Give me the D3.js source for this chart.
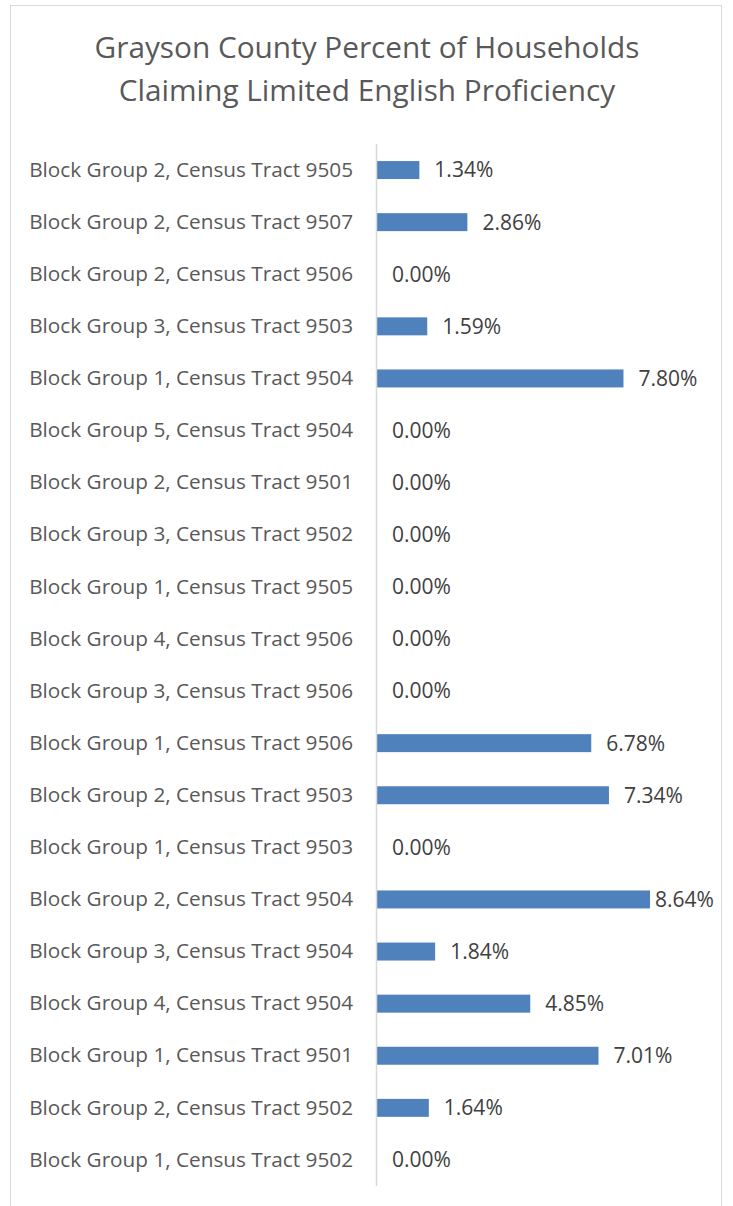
<!DOCTYPE html>
<html>
<head>
<meta charset="utf-8">
<script src="https://cdn.jsdelivr.net/npm/d3@7"></script>
<style>
  body { margin: 0; background: #fff; }
  svg { display: block; }
</style>
</head>
<body>
<div class="barChart"></div>
<script>
// data
var tracts = [
    "Block Group 2, Census Tract 9505",
    "Block Group 2, Census Tract 9507",
    "Block Group 2, Census Tract 9506",
    "Block Group 3, Census Tract 9503",
    "Block Group 1, Census Tract 9504",
    "Block Group 5, Census Tract 9504",
    "Block Group 2, Census Tract 9501",
    "Block Group 3, Census Tract 9502",
    "Block Group 1, Census Tract 9505",
    "Block Group 4, Census Tract 9506",
    "Block Group 3, Census Tract 9506",
    "Block Group 1, Census Tract 9506",
    "Block Group 2, Census Tract 9503",
    "Block Group 1, Census Tract 9503",
    "Block Group 2, Census Tract 9504",
    "Block Group 3, Census Tract 9504",
    "Block Group 4, Census Tract 9504",
    "Block Group 1, Census Tract 9501",
    "Block Group 2, Census Tract 9502",
    "Block Group 1, Census Tract 9502"
];
var percents = [1.34, 2.86, 0.00, 1.59, 7.80, 0.00, 0.00, 0.00, 0.00, 0.00,
                0.00, 6.78, 7.34, 0.00, 8.64, 1.84, 4.85, 7.01, 1.64, 0.00];
var titleLines = ["Grayson County Percent of Households",
                  "Claiming Limited English Proficiency"];

var width = 733, height = 1206;
var font = "'Open Sans', sans-serif";

var canvas = d3.select(".barChart")
    .append("svg")
    .attr("width", width)
    .attr("height", height);

// shrink/grow a text selection so its widest member is `target` px wide
function fitWidth(sel, target, base) {
    var w = 0;
    sel.each(function () { w = Math.max(w, this.getComputedTextLength()); });
    sel.style("font-size", (base * target / w) + "px");
}

// chart border
canvas.append("rect")
    .attr("x", 10.5).attr("y", 5.5)
    .attr("width", 711).attr("height", 1220)
    .attr("fill", "none")
    .attr("stroke", "#d9d9d9");

var title = canvas.selectAll(".title")
    .data(titleLines)
    .enter()
    .append("text")
    .attr("class", "title")
    .attr("x", 367)
    .attr("y", function (d, i) { return 58 + i * 43; })
    .attr("text-anchor", "middle")
    .style("font-family", font)
    .style("font-size", "26px")
    .style("fill", "#595959")
    .text(function (d) { return d; });
fitWidth(title, 545, 26);

var x = d3.scaleLinear().domain([0, 10]).range([377, 693]);
var y = d3.scaleBand()
    .domain(tracts)
    .range([144, 1186])
    .paddingInner(0.655)
    .paddingOuter(0.3275);

var rows = tracts.map(function (t, i) { return { tract: t, value: percents[i] }; });

// category labels
var yAxis = canvas.append("g")
    .attr("transform", "translate(" + x(0) + ",0)")
    .call(d3.axisLeft(y).tickSize(0).tickPadding(24));
yAxis.select(".domain").remove();
var tickText = yAxis.selectAll("text")
    .style("font-family", font)
    .style("font-size", "19px")
    .style("fill", "#595959");
fitWidth(tickText, 324, 19);

canvas.selectAll(".bar")
    .data(rows)
    .enter()
    .append("rect")
    .attr("class", "bar")
    .attr("x", x(0))
    .attr("y", function (d) { return y(d.tract); })
    .attr("width", function (d) { return x(d.value) - x(0); })
    .attr("height", y.bandwidth())
    .attr("fill", "#4f81bd");

// vertical axis line
canvas.append("line")
    .attr("x1", x(0) - 0.5).attr("x2", x(0) - 0.5)
    .attr("y1", 144).attr("y2", 1186)
    .attr("stroke", "#d9d9d9")
    .attr("stroke-width", 1.5);

var valueText = canvas.selectAll(".value")
    .data(rows)
    .enter()
    .append("text")
    .attr("class", "value")
    .attr("x", function (d) { return Math.min(x(d.value) + 15, 655); })
    .attr("y", function (d) { return y(d.tract) + y.bandwidth() / 2; })
    .attr("dy", "0.35em")
    .style("font-family", font)
    .style("font-size", "19px")
    .style("fill", "#404040")
    .text(function (d) { return d.value.toFixed(2) + "%"; });
fitWidth(valueText, 59, 19);
</script>
</body>
</html>
